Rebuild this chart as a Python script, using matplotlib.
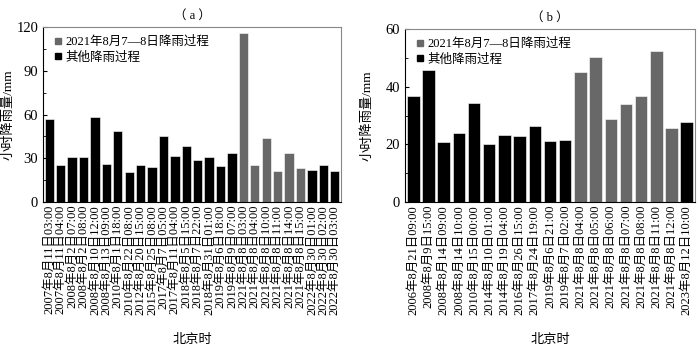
import matplotlib
matplotlib.use('Agg')
import matplotlib.pyplot as plt
from matplotlib.ticker import MultipleLocator
from matplotlib.lines import Line2D

plt.rcParams['font.family'] = ['Liberation Serif', 'Noto Sans CJK SC']

# (a) data
labels_a = ['2007年8月11日03:00', '2007年8月11日04:00', '2008年8月2日07:00', '2008年8月2日08:00',
            '2008年8月10日12:00', '2008年8月13日09:00', '2010年8月1日18:00', '2010年8月22日08:00',
            '2012年8月20日15:00', '2015年8月25日08:00', '2017年8月7日05:00', '2017年8月11日04:00',
            '2018年8月5日15:00', '2018年8月7日22:00', '2018年8月31日01:00', '2019年8月6日18:00',
            '2019年8月9日07:00', '2021年8月8日03:00', '2021年8月8日04:00', '2021年8月8日10:00',
            '2021年8月8日11:00', '2021年8月8日14:00', '2021年8月8日15:00', '2022年8月30日01:00',
            '2022年8月30日02:00', '2022年8月30日03:00']
values_a = [57, 25.4, 30.7, 30.7, 58.6, 25.9, 48.7, 20.5, 25.4, 24.2, 45, 31.4, 38.7, 28.8,
            30.9, 24.7, 33.9, 116, 25.4, 43.6, 21, 33.5, 23.3, 21.9, 25.2, 21.2]
is_0807_a = [False] * 17 + [True] * 6 + [False] * 3

# (b) data
labels_b = ['2006年8月21日09:00', '2008年8月9日15:00', '2008年8月14日09:00', '2008年8月14日10:00',
            '2010年8月15日00:00', '2014年8月10日01:00', '2014年8月19日04:00', '2016年8月26日15:00',
            '2017年8月24日19:00', '2019年8月6日21:00', '2019年8月7日02:00', '2021年8月8日04:00',
            '2021年8月8日05:00', '2021年8月8日06:00', '2021年8月8日07:00', '2021年8月8日08:00',
            '2021年8月8日11:00', '2021年8月8日12:00', '2023年8月12日10:00']
values_b = [36.8, 45.8, 20.8, 23.9, 34.3, 20.1, 23.1, 23.0, 26.4, 21.3, 21.4,
            45.2, 50.2, 28.9, 33.9, 36.7, 52.2, 25.5, 27.9]
is_0807_b = [False] * 11 + [True] * 7 + [False]

GREY = '#686868'
legend_labels = ['2021年8月7—8日降雨过程', '其他降雨过程']

fig = plt.figure(figsize=(7, 3.51), dpi=100)
ax_a = fig.add_axes([43 / 700, 149 / 351, 298 / 700, 175 / 351])
ax_b = fig.add_axes([405 / 700, 149 / 351, 290 / 700, 173 / 351])


def draw(ax, labels, values, flags, ymax, major, minor, title, ylab_x):
    n = len(values)
    colors = [GREY if f else 'black' for f in flags]
    ax.bar(range(n), values, width=0.82, color=colors, edgecolor='white', linewidth=0.4)
    ax.set_xlim(-0.55, n - 0.45)
    ax.set_ylim(0, ymax)
    ax.yaxis.set_major_locator(MultipleLocator(major))
    ax.yaxis.set_minor_locator(MultipleLocator(minor))
    ax.tick_params(axis='y', which='both', direction='in', right=False, labelsize=10.5)
    ax.tick_params(axis='y', which='major', length=3)
    ax.tick_params(axis='y', which='minor', length=2)
    ax.set_xticks(range(n))
    ax.set_xticklabels(labels, rotation=90, fontsize=9)
    ax.tick_params(axis='x', length=0, pad=2)
    for s in ['top', 'right']:
        ax.spines[s].set_color('#888888')
    ax.set_ylabel('小时降雨量/mm', fontsize=9.5)
    ax.yaxis.set_label_coords(ylab_x, 0.5)
    ax.set_xlabel('北京时', fontsize=9.5, labelpad=14)
    ax.set_title(title, fontsize=9, pad=6)
    handles = [Line2D([], [], marker='s', linestyle='none', color=GREY, markersize=5),
               Line2D([], [], marker='s', linestyle='none', color='black', markersize=5)]
    ax.legend(handles, legend_labels, loc='upper left', frameon=False, fontsize=9,
              handletextpad=0.1, borderaxespad=0.3, labelspacing=0.3, handlelength=1.0)


draw(ax_a, labels_a, values_a, is_0807_a, 120, 30, 15, '（ a ）', -0.095)
draw(ax_b, labels_b, values_b, is_0807_b, 60, 20, 10, '（ b ）', -0.11)

fig.savefig('out.png', dpi=100)
